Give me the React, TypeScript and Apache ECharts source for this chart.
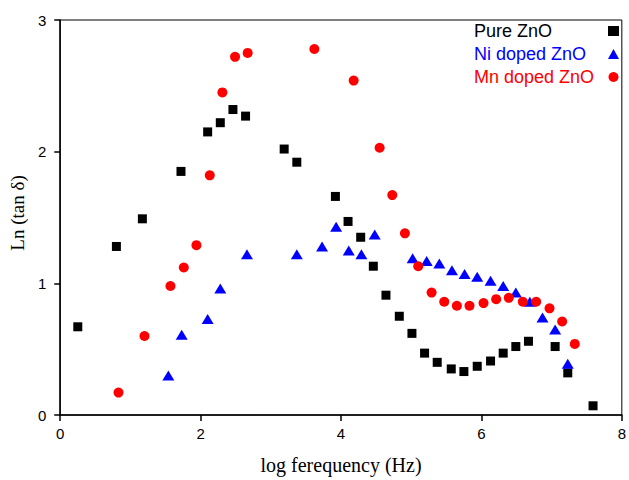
import React, { useEffect, useRef } from "react";
import * as echarts from "echarts";

const xTicks = [0, 2, 4, 6, 8];
const yTicks = [0, 1, 2, 3];

const pureX = [0.25, 0.8, 1.17, 1.72, 2.1, 2.28, 2.46, 2.64, 3.19, 3.37, 3.92, 4.1, 4.28, 4.46, 4.64, 4.83, 5.01, 5.19, 5.37, 5.57, 5.75, 5.94, 6.13, 6.31, 6.49, 6.67, 7.05, 7.23, 7.59];
const pureY = [0.67, 1.28, 1.49, 1.85, 2.15, 2.22, 2.32, 2.27, 2.02, 1.92, 1.66, 1.47, 1.35, 1.13, 0.91, 0.75, 0.62, 0.47, 0.4, 0.35, 0.33, 0.37, 0.41, 0.47, 0.52, 0.56, 0.52, 0.32, 0.07];

const niX = [1.54, 1.73, 2.1, 2.28, 2.66, 3.37, 3.73, 3.93, 4.11, 4.29, 4.48, 5.02, 5.22, 5.4, 5.58, 5.76, 5.94, 6.13, 6.31, 6.49, 6.69, 6.87, 7.05, 7.23];
const niY = [0.3, 0.61, 0.73, 0.96, 1.22, 1.22, 1.28, 1.43, 1.25, 1.22, 1.37, 1.19, 1.17, 1.15, 1.1, 1.07, 1.05, 1.02, 0.98, 0.93, 0.86, 0.74, 0.65, 0.39];

const mnX = [0.83, 1.2, 1.57, 1.76, 1.94, 2.13, 2.31, 2.49, 2.67, 3.62, 4.18, 4.55, 4.73, 4.91, 5.1, 5.29, 5.47, 5.65, 5.83, 6.03, 6.21, 6.39, 6.59, 6.78, 6.97, 7.15, 7.33];
const mnY = [0.17, 0.6, 0.98, 1.12, 1.29, 1.82, 2.45, 2.72, 2.75, 2.78, 2.54, 2.03, 1.67, 1.38, 1.13, 0.93, 0.86, 0.83, 0.83, 0.85, 0.88, 0.89, 0.86, 0.86, 0.81, 0.71, 0.54];

const seriesNames = ["Pure ZnO", "Ni doped ZnO", "Mn doped ZnO"];
const seriesColors = ["#000000", "#0000ff", "#ff0000"];

const zip = (xs: number[], ys: number[]) => xs.map((x, i) => [x, ys[i]]);

export default function App() {
  const ref = useRef<HTMLDivElement>(null);
  useEffect(() => {
    if (!ref.current) return;
    const chart = echarts.init(ref.current, null, { renderer: "svg" });
    const sans = "Liberation Sans, Arial, sans-serif";
    const serif = "Liberation Serif, Times New Roman, serif";
    chart.setOption({
      animation: false,
      backgroundColor: "#ffffff",
      grid: {
        left: 54,
        right: 3,
        top: 20,
        bottom: 61,
        show: true,
        borderColor: "#000",
        borderWidth: 1,
        backgroundColor: "transparent",
      },
      legend: {
        orient: "vertical",
        align: "right",
        right: 10,
        top: 22,
        padding: 0,
        itemGap: 5,
        itemWidth: 11,
        itemHeight: 10,
        formatter: "{a|{name}}",
        data: seriesNames.map((n, i) => ({
          name: n,
          icon: i === 0 ? "rect" : i === 1 ? "triangle" : "circle",
          itemStyle: { color: seriesColors[i], opacity: 1 },
          textStyle: {
            color: seriesColors[i],
            fontFamily: sans,
            fontSize: 18,
            rich: {
              a: {
                color: seriesColors[i],
                fontFamily: sans,
                fontSize: 18,
                width: 129,
                align: "left",
                lineHeight: 21,
              },
            },
          },
        })),
      },
      xAxis: {
        type: "value",
        min: xTicks[0],
        max: xTicks[xTicks.length - 1],
        interval: 2,
        name: "log ferequency (Hz)",
        nameLocation: "middle",
        nameGap: 40,
        nameTextStyle: { fontFamily: serif, fontSize: 20, color: "#000" },
        axisLine: { show: true, lineStyle: { color: "#000", width: 1.5 } },
        axisTick: { show: true, length: 6, inside: false, lineStyle: { color: "#000", width: 1.5 } },
        axisLabel: { fontFamily: sans, fontSize: 15, color: "#000", margin: 11 },
        splitLine: { show: false },
      },
      yAxis: {
        type: "value",
        min: yTicks[0],
        max: yTicks[yTicks.length - 1],
        interval: 1,
        name: "Ln (tan δ)",
        nameLocation: "middle",
        nameGap: 28,
        nameTextStyle: { fontFamily: serif, fontSize: 19, color: "#000", padding: [0, 0, 0, 9] },
        axisLine: { show: true, lineStyle: { color: "#000", width: 1.5 } },
        axisTick: { show: true, length: 6, inside: false, lineStyle: { color: "#000", width: 1.5 } },
        axisLabel: { fontFamily: sans, fontSize: 15, color: "#000", margin: 14 },
        splitLine: { show: false },
      },
      series: [
        {
          name: seriesNames[0],
          type: "scatter",
          symbol: "rect",
          symbolSize: 9,
          itemStyle: { color: seriesColors[0], opacity: 1 },
          data: zip(pureX, pureY),
        },
        {
          name: seriesNames[1],
          type: "scatter",
          symbol: "triangle",
          symbolSize: [12, 10],
          itemStyle: { color: seriesColors[1], opacity: 1 },
          data: zip(niX, niY),
        },
        {
          name: seriesNames[2],
          type: "scatter",
          symbol: "circle",
          symbolSize: 10,
          itemStyle: { color: seriesColors[2], opacity: 1 },
          data: zip(mnX, mnY),
        },
      ],
    });
    return () => chart.dispose();
  }, []);
  return (
    <div
      ref={ref}
      style={{ position: "fixed", left: 0, top: 0, width: 629, height: 480, background: "#fff" }}
    />
  );
}
